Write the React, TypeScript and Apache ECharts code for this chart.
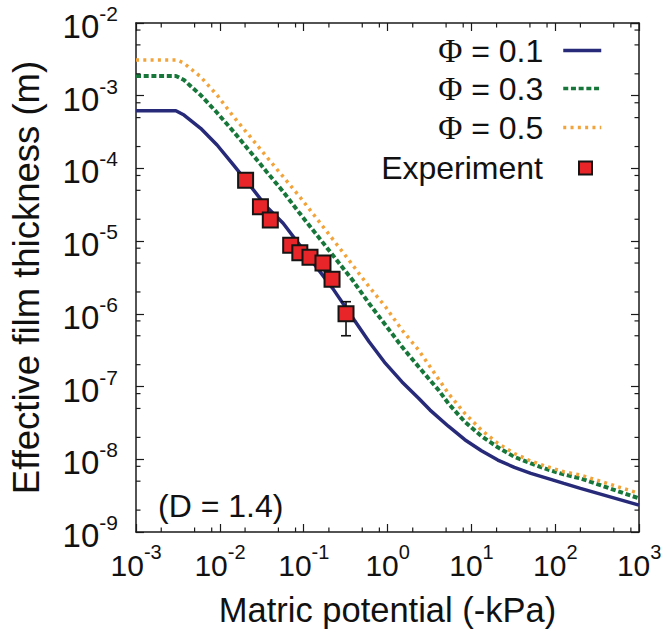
import React, { useEffect, useRef } from 'react';
import * as echarts from 'echarts';

const FONT = '"Liberation Sans", Arial, Helvetica, sans-serif';
const AXIS_COLOR = '#1a1a1a';

const SERIES_NAMES = ['Φ = 0.1', 'Φ = 0.3', 'Φ = 0.5', 'Experiment'];
const SERIES_COLORS = ['#272a78', '#17773a', '#f2a43a', '#e8262a'];

// Φ = 0.1 curve
const PHI1_X = [0.001, 0.00299, 0.00374, 0.0059, 0.00927, 0.0146, 0.023, 0.0361, 0.0569, 0.222, 0.401, 0.603, 0.946, 1.49, 2.35, 3.22, 5.32, 8.36, 13.2, 20.7, 32.6, 51.3, 80.9, 127, 200, 1000];
const PHI1_Y = [6.22e-4, 6.22e-4, 5.42e-4, 3.56e-4, 2.1e-4, 1.11e-4, 5.78e-5, 2.97e-5, 1.76e-5, 2.24e-6, 8.22e-7, 4.13e-7, 2.08e-7, 1.16e-7, 6.89e-8, 4.75e-8, 2.85e-8, 1.86e-8, 1.31e-8, 9.75e-9, 7.74e-9, 6.4e-9, 5.46e-9, 4.66e-9, 3.98e-9, 2.34e-9];

// Φ = 0.3 curve
const PHI3_X = [0.001, 0.00299, 0.00374, 0.0059, 0.00927, 0.0146, 0.023, 0.0361, 0.0569, 0.0897, 0.382, 0.603, 0.946, 1.49, 2.35, 4.06, 5.32, 8.36, 13.2, 20.7, 32.6, 51.3, 80.9, 127, 200, 1000];
const PHI3_Y = [1.87e-3, 1.87e-3, 1.64e-3, 1.02e-3, 5.83e-4, 3.2e-4, 1.7e-4, 9.02e-5, 4.79e-5, 2.41e-5, 2.92e-6, 1.39e-6, 7.02e-7, 3.52e-7, 1.87e-7, 8.95e-8, 5.87e-8, 3.28e-8, 2.08e-8, 1.46e-8, 1.08e-8, 8.77e-9, 7.26e-9, 6.19e-9, 5.46e-9, 2.9e-9];

// Φ = 0.5 curve
const PHI5_X = [0.001, 0.00312, 0.00374, 0.0059, 0.00927, 0.0146, 0.023, 0.0361, 0.0569, 0.0897, 0.291, 0.603, 0.946, 1.49, 2.35, 5.32, 8.36, 13.2, 20.7, 32.6, 51.3, 80.9, 127, 200, 1000];
const PHI5_Y = [3.1e-3, 3.1e-3, 2.79e-3, 1.82e-3, 1.02e-3, 5.14e-4, 2.73e-4, 1.45e-4, 7.69e-5, 4.08e-5, 7.14e-6, 2.36e-6, 1.25e-6, 5.98e-7, 3.18e-7, 8.05e-8, 4.28e-8, 2.52e-8, 1.66e-8, 1.2e-8, 9.44e-9, 7.89e-9, 6.73e-9, 6.07e-9, 3.4e-9];

// Experiment
const EXP_X = [0.0203, 0.0305, 0.04, 0.07, 0.09, 0.119, 0.17, 0.218, 0.32];
const EXP_Y = [6.9e-5, 2.97e-5, 1.95e-5, 8.8e-6, 6.9e-6, 6.0e-6, 5.0e-6, 2.98e-6, 1.0e-6];
const ERR_X = [0.32];
const ERR_LOW = [5.0e-7];
const ERR_HIGH = [1.47e-6];

// Axes
const X_MIN = 1e-3;
const X_MAX = 1e3;
const Y_MIN = 1e-9;
const Y_MAX = 1e-2;
const X_DECADES = [1e-3, 1e-2, 1e-1, 1, 10, 100];
const Y_DECADES = [1e-9, 1e-8, 1e-7, 1e-6, 1e-5, 1e-4, 1e-3];
const MINOR_MULT = [2, 5, 8];

const LEGEND_TOPS = [34, 72, 111, 152];
const ANNOTATION = '(D = 1.4)';

const pairs = (xs: number[], ys: number[]) => xs.map((x, i) => [x, ys[i]]);

const labelFmt = (v: number) => `{h| }{b|10}{s|${Math.round(Math.log10(v))}}`;
const makeRich = (big: number, small: number, lh: number) => ({
  h: { fontSize: 1, lineHeight: lh },
  b: { fontSize: big, fontFamily: FONT, color: '#111', verticalAlign: 'bottom' },
  s: { fontSize: small, fontFamily: FONT, color: '#111', verticalAlign: 'top' },
});

const legendFmt = (name: string) =>
  name.startsWith('Φ') ? `{p|Φ}{t|${name.slice(1)}}` : `{t|${name}}`;

export default function App() {
  const ref = useRef<HTMLDivElement>(null);

  useEffect(() => {
    if (!ref.current) return;
    document.body.style.margin = '0';
    const chart = echarts.init(ref.current, null, { renderer: 'svg' });

    const xMinor: number[][] = [];
    X_DECADES.forEach((d) => MINOR_MULT.forEach((m) => xMinor.push([d * m, 1e-5])));
    const yMinor: number[][] = [];
    Y_DECADES.forEach((d) => MINOR_MULT.forEach((m) => yMinor.push([1, d * m])));

    const tickStyle = { stroke: AXIS_COLOR, lineWidth: 1.2 };
    const minorLen = 4.5;

    const axisCommon = {
      type: 'log',
      logBase: 10,
      axisLine: { show: true, lineStyle: { color: AXIS_COLOR, width: 1.5 } },
      axisTick: { show: true, inside: true, length: 8, lineStyle: { color: AXIS_COLOR, width: 1.2 } },
      splitLine: { show: false },
      minorTick: { show: false },
    };

    const option: any = {
      animation: false,
      backgroundColor: '#fff',
      textStyle: { fontFamily: FONT },
      grid: { left: 131, right: 28, top: 23, bottom: 106, containLabel: false },
      xAxis: [
        {
          ...axisCommon,
          position: 'bottom',
          min: X_MIN,
          max: X_MAX,
          name: 'Matric potential (-kPa)',
          nameLocation: 'middle',
          nameGap: 60,
          nameTextStyle: { fontSize: 34.5, fontFamily: FONT, color: '#111' },
          axisLabel: {
            show: true,
            margin: 10,
            formatter: labelFmt,
            rich: makeRich(30, 20, 38),
            showMinLabel: true,
            showMaxLabel: true,
          },
        },
        {
          ...axisCommon,
          position: 'top',
          min: X_MIN,
          max: X_MAX,
          axisLabel: { show: false },
        },
      ],
      yAxis: [
        {
          ...axisCommon,
          position: 'left',
          min: Y_MIN,
          max: Y_MAX,
          name: 'Effective film thickness (m)',
          nameLocation: 'middle',
          nameGap: 91,
          nameTextStyle: { fontSize: 36.5, fontFamily: FONT, color: '#111' },
          axisLabel: {
            show: true,
            margin: 18,
            formatter: labelFmt,
            rich: makeRich(33, 21, 40),
            showMinLabel: true,
            showMaxLabel: true,
          },
        },
        {
          ...axisCommon,
          position: 'right',
          min: Y_MIN,
          max: Y_MAX,
          axisLabel: { show: false },
        },
      ],
      legend: SERIES_NAMES.map((n, i) => {
        const isExp = i === 3;
        return {
          data: [n],
          right: isExp ? 74 : 64,
          top: LEGEND_TOPS[i],
          orient: 'horizontal',
          align: 'right',
          padding: 0,
          itemGap: 0,
          itemWidth: isExp ? 13 : 38,
          itemHeight: isExp ? 13 : 12,
          selectedMode: false,
          lineStyle: { width: 3.5 },
          itemStyle: isExp ? {} : { color: 'rgba(0,0,0,0)', borderWidth: 0, opacity: 0 },
          formatter: legendFmt,
          textStyle: {
            fontSize: 32,
            color: '#111',
            padding: [0, isExp ? 31 : 15, 0, 0],
            rich: {
              p: { fontSize: 33, fontFamily: '"Liberation Serif", "Times New Roman", serif', color: '#111' },
              t: { fontSize: 32, fontFamily: FONT, color: '#111' },
            },
          },
        };
      }),
      graphic: [
        {
          type: 'text',
          left: 158,
          top: 490,
          style: { text: ANNOTATION, fontSize: 32, fontFamily: FONT, fill: '#111' },
        },
      ],
      series: [
        {
          name: SERIES_NAMES[0],
          type: 'line',
          data: pairs(PHI1_X, PHI1_Y),
          symbol: 'none',
          smooth: false,
          z: 3,
          lineStyle: { color: SERIES_COLORS[0], width: 3.5, type: 'solid' },
          itemStyle: { color: SERIES_COLORS[0] },
        },
        {
          name: SERIES_NAMES[1],
          type: 'line',
          data: pairs(PHI3_X, PHI3_Y),
          symbol: 'none',
          smooth: false,
          z: 3,
          lineStyle: { color: SERIES_COLORS[1], width: 4, type: [5, 2.7], cap: 'butt' },
          itemStyle: { color: SERIES_COLORS[1] },
        },
        {
          name: SERIES_NAMES[2],
          type: 'line',
          data: pairs(PHI5_X, PHI5_Y),
          symbol: 'none',
          smooth: false,
          z: 3,
          lineStyle: { color: SERIES_COLORS[2], width: 3.5, type: [3, 4.3], cap: 'butt' },
          itemStyle: { color: SERIES_COLORS[2] },
        },
        {
          name: 'errorbars',
          type: 'custom',
          z: 4,
          silent: true,
          data: ERR_X.map((x, i) => [x, ERR_LOW[i], ERR_HIGH[i]]),
          encode: { x: 0, y: [1, 2] },
          renderItem: (params: any, api: any) => {
            const lo = api.coord([api.value(0), api.value(1)]);
            const hi = api.coord([api.value(0), api.value(2)]);
            const st = { stroke: '#111', lineWidth: 1.6 };
            const w = 5;
            return {
              type: 'group',
              children: [
                { type: 'line', shape: { x1: lo[0], y1: lo[1], x2: hi[0], y2: hi[1] }, style: st },
                { type: 'line', shape: { x1: lo[0] - w, y1: lo[1], x2: lo[0] + w, y2: lo[1] }, style: st },
                { type: 'line', shape: { x1: hi[0] - w, y1: hi[1], x2: hi[0] + w, y2: hi[1] }, style: st },
              ],
            };
          },
        },
        {
          name: SERIES_NAMES[3],
          type: 'scatter',
          data: pairs(EXP_X, EXP_Y),
          symbol: 'rect',
          symbolSize: 15,
          z: 5,
          itemStyle: { color: SERIES_COLORS[3], borderColor: '#151515', borderWidth: 2, opacity: 1 },
        },
        {
          name: 'xMinorTicks',
          type: 'custom',
          silent: true,
          z: 6,
          clip: false,
          data: xMinor,
          renderItem: (params: any, api: any) => {
            const cs = params.coordSys;
            const p = api.coord([api.value(0), api.value(1)]);
            return {
              type: 'group',
              children: [
                { type: 'line', shape: { x1: p[0], y1: cs.y + cs.height, x2: p[0], y2: cs.y + cs.height - minorLen }, style: tickStyle },
                { type: 'line', shape: { x1: p[0], y1: cs.y, x2: p[0], y2: cs.y + minorLen }, style: tickStyle },
              ],
            };
          },
        },
        {
          name: 'yMinorTicks',
          type: 'custom',
          silent: true,
          z: 6,
          clip: false,
          data: yMinor,
          renderItem: (params: any, api: any) => {
            const cs = params.coordSys;
            const p = api.coord([api.value(0), api.value(1)]);
            return {
              type: 'group',
              children: [
                { type: 'line', shape: { x1: cs.x, y1: p[1], x2: cs.x + minorLen, y2: p[1] }, style: tickStyle },
                { type: 'line', shape: { x1: cs.x + cs.width, y1: p[1], x2: cs.x + cs.width - minorLen, y2: p[1] }, style: tickStyle },
              ],
            };
          },
        },
      ],
    };

    chart.setOption(option);
    return () => {
      chart.dispose();
    };
  }, []);

  return <div ref={ref} style={{ width: 667, height: 638 }} />;
}
